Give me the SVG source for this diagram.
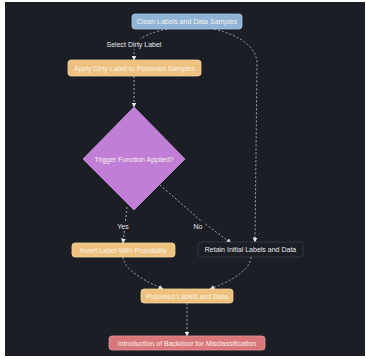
<svg xmlns="http://www.w3.org/2000/svg" width="366" height="358" viewBox="0 0 366 358">
<defs>
<style>
.bg{fill:#1c1e26}
.n{stroke-width:0.8}
.blue{fill:#8fb4d6;stroke:#a7c6e2}
.orange{fill:#eec27e;stroke:#f3d29a}
.red{fill:#d9777b;stroke:#e59598}
.dark{fill:#1c1e26;stroke:#3a3d48}
.purple{fill:#c07ed6;stroke:#c98fdd}
text{font-family:"Liberation Sans",Arial,sans-serif;font-size:7px;text-anchor:middle;dominant-baseline:central}
.tl{fill:#f6f2ea}
.tw{fill:#e6e6ea}
.e{fill:none;stroke:#c8c8cc;stroke-width:0.8;stroke-dasharray:2 2}
</style>
<marker id="ah" viewBox="0 0 10 10" refX="9" refY="5" markerWidth="5" markerHeight="5" orient="auto" markerUnits="userSpaceOnUse">
<path d="M0,0 L10,5 L0,10 z" fill="#e8e8ec"/>
</marker>
</defs>
<rect class="bg" x="5" y="2" width="360" height="354"/>
<g id="edges">
<path class="e" d="M167,29 Q134,36 134,50 L134,60" marker-end="url(#ah)"/>
<path class="e" d="M214,29 Q257,40 257,64 L255,242" marker-end="url(#ah)"/>
<path class="e" d="M134,76 L134,107" marker-end="url(#ah)"/>
<path class="e" d="M127,207 L123,243" marker-end="url(#ah)"/>
<path class="e" d="M160,185 L200,220 L231,243" marker-end="url(#ah)"/>
<path class="e" d="M123,257 Q124,272 163,289" marker-end="url(#ah)"/>
<path class="e" d="M251,257 Q250,274 210,289" marker-end="url(#ah)"/>
<path class="e" d="M187,303 L187,336" marker-end="url(#ah)"/>
<rect x="104" y="39" width="60" height="10" class="bg"/>
<text class="tw" x="134" y="44">Select Dirty Label</text>
<rect x="116" y="221" width="14" height="10" class="bg"/>
<text class="tw" x="123" y="226">Yes</text>
<rect x="192" y="221" width="12" height="10" class="bg"/>
<text class="tw" x="198" y="226">No</text>
</g>
<g id="clean"><rect class="n blue" x="132" y="14" width="110" height="15" rx="3"/><text class="tl" x="187" y="21.5">Clean Labels and Data Samples</text></g>
<g id="apply"><rect class="n orange" x="68" y="60" width="133" height="16" rx="3"/><text class="tl" x="134.5" y="68">Apply Dirty Label to Poisoned Samples</text></g>
<g id="trigger"><polygon class="n purple" points="134,107 185,159 134,210 83,159"/><text class="tl" x="134" y="159">Trigger Function Applied?</text></g>
<g id="invert"><rect class="n orange" x="72" y="243" width="103" height="14" rx="3"/><text class="tl" x="123.5" y="250">Invert Label With Probability</text></g>
<g id="retain"><rect class="n dark" x="198" y="242" width="105" height="15" rx="3"/><text class="tw" x="250.5" y="249.5">Retain Initial Labels and Data</text></g>
<g id="poisoned"><rect class="n orange" x="141" y="289" width="92" height="14" rx="3"/><text class="tl" x="187" y="296">Poisoned Labels and Data</text></g>
<g id="backdoor"><rect class="n red" x="109" y="336" width="156" height="14" rx="3"/><text class="tl" x="187" y="343">Introduction of Backdoor for Misclassification</text></g>
</svg>
